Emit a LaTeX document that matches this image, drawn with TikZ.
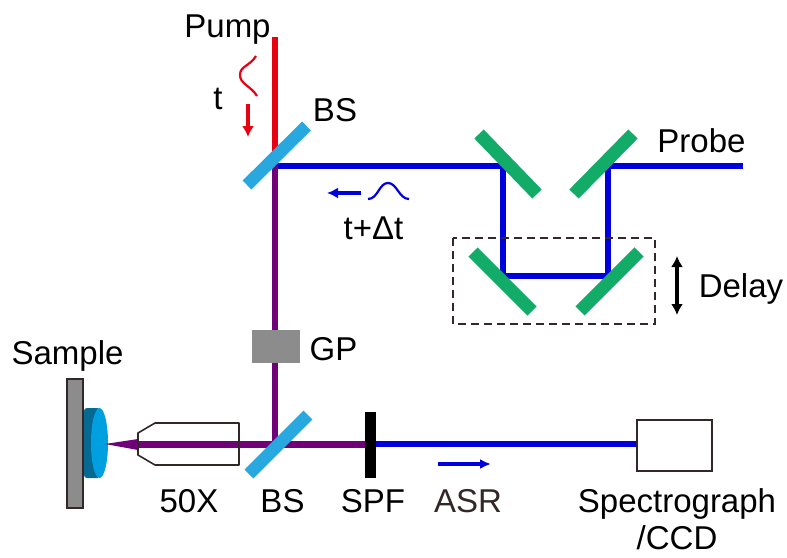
\documentclass[tikz,border=0pt]{standalone}
\usepackage{fontspec}
\setmainfont{Liberation Sans}
\usetikzlibrary{arrows.meta,positioning}
\definecolor{beamred}{RGB}{230,0,18}
\definecolor{beamblue}{RGB}{0,0,220}
\definecolor{beampurple}{RGB}{112,0,120}
\definecolor{bsblue}{RGB}{41,168,224}
\definecolor{lensblue}{RGB}{0,160,224}
\definecolor{lensdark}{RGB}{5,105,145}
\definecolor{mirrorgreen}{RGB}{18,172,104}
\definecolor{plategray}{RGB}{140,140,140}
\definecolor{edgedark}{RGB}{50,40,40}
\begin{document}
\begin{tikzpicture}[x=1pt,y=-1pt,>=Latex]
  \tikzstyle{lbl}=[inner sep=0pt,anchor=base,font=\fontsize{33}{37}\selectfont]
  \tikzstyle{beam}=[line width=6pt]
  \tikzstyle{splitter}=[line width=12.5pt,bsblue]
  \tikzstyle{mirror}=[line width=13pt,mirrorgreen]
  \tikzstyle{outline}=[draw=edgedark,line width=1.6pt]
  \tikzstyle{pulse}=[line width=2.2pt]
  \useasboundingbox (0,0) rectangle (787,557);
  \coordinate (pumpin) at (275,37);
  \coordinate (bstop) at (275,166);
  \coordinate (probein) at (743,166);
  \coordinate (m2) at (608,166);
  \coordinate (m1) at (503,166);
  \coordinate (m3) at (503,276);
  \coordinate (m4) at (608,276);
  \coordinate (bsbot) at (275,444);
  \coordinate (spfmid) at (370,444);
  \coordinate (conebase) at (138,444);
  \draw[beam,beamred] (pumpin) -- (bstop);
  \draw[beam,beamblue] (probein) -- (m2) -- (m4) -- (m3) -- (m1) -- (bstop);
  \draw[beam,beampurple] (bstop) -- (bsbot);
  \node[fill=plategray,minimum width=48pt,minimum height=33pt,inner sep=0pt] (gp) at (276,346) {};
  \node[fill=plategray,outline,minimum width=16pt,minimum height=129pt,inner sep=0pt] (stage) at (75,443.5) {};
  \fill[rounded corners=3pt,lensdark] (84,408) rectangle (100,478);
  \fill[lensblue] (99.5,443) ellipse [x radius=8.5,y radius=35];
  \draw[beam,beamblue] (spfmid) -- (636,444);
  \draw[line width=7pt,beampurple] (conebase) -- (bsbot) -- (spfmid);
  \fill[beampurple] (105,444) -- (138,439) -- (138,450) -- cycle;
  \draw[outline,line join=round] (138,433) -- (155,423) -- (239,423) -- (239,465) -- (155,465) -- (138,455) -- cycle;
  \draw[splitter] (306.5,126) -- (247,185);
  \draw[splitter] (308,415) -- (249,474);
  \draw[line width=11pt,black] (370.5,412) -- (370.5,478);
  \draw[mirror] (479,134) -- (537,194);
  \draw[mirror] (633,134) -- (574,194);
  \draw[mirror] (473,252) -- (532,311);
  \draw[mirror] (639,252) -- (580,311);
  \draw[outline,dash pattern=on 8pt off 5pt] (453,238) rectangle (655,324);
  \draw[outline] (637,420) rectangle (712,471);
  \draw[line width=3.2pt,black,<->,>={Latex[length=11pt,width=12pt]}] (677,256) -- (677,315);
  \draw[pulse,beamred] (256,56) .. controls (250,66) and (240,66) .. (240,75) .. controls (240,84) and (251,86) .. (257,96);
  \draw[line width=3.6pt,beamred,->,>={Latex[length=11pt,width=12pt]}] (248,104) -- (248,137);
  \draw[pulse,beamblue] (368,199) .. controls (378,199) and (379,183) .. (388,183) .. controls (397,183) and (399,199) .. (409,199);
  \draw[line width=3.6pt,beamblue,->,>={Latex[length=11pt,width=11pt]}] (361,193) -- (327,193);
  \draw[line width=3.6pt,beamblue,->,>={Latex[length=11pt,width=10pt]}] (438,464) -- (491,464);
  \node[lbl] (pump) at (227.5,37) {Pump};
  \node[lbl] (tpump) at (218,109) {t};
  \node[lbl] (bsupper) at (335,121) {BS};
  \node[lbl] (tdelay) at (373.5,239) {t+Δt};
  \node[lbl] (probe) at (701.5,152) {Probe};
  \node[lbl] (delay) at (741,297) {Delay};
  \node[lbl] (gplabel) at (333.5,360) {GP};
  \node[lbl] (sample) at (67.5,364) {Sample};
  \node[lbl] (objective) at (189,512) {50X};
  \node[lbl] (bslower) at (282.5,512) {BS};
  \node[lbl] (spf) at (373,512) {SPF};
  \node[lbl,text=edgedark] (asr) at (468,512) {ASR};
  \node[lbl] (spectro) at (677,512) {Spectrograph};
  \node[lbl] (ccd) at (677,549) {/CCD};
\end{tikzpicture}
\end{document}
